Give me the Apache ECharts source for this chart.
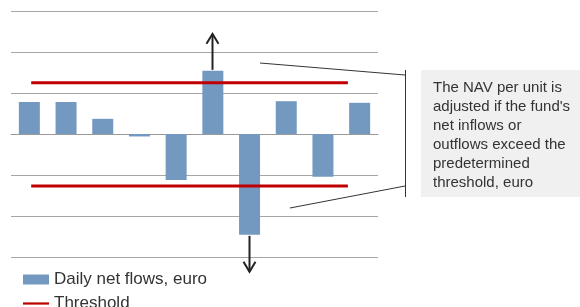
<!DOCTYPE html>
<html>
<head>
<meta charset="utf-8">
<script src="https://cdn.jsdelivr.net/npm/echarts@6/dist/echarts.min.js"></script>
<style>
  html, body { margin: 0; padding: 0; background: #fff; }
  #chart { width: 580px; height: 307px; }
</style>
</head>
<body>
<div id="chart"></div>
<script>
// one bar per day
var days = ['1', '2', '3', '4', '5', '6', '7', '8', '9', '10']
var netFlows = [0.78, 0.78, 0.37, -0.06, -1.12, 1.54, -2.46, 0.8, -1.04, 0.76]
var upperThreshold = 1.25
var lowerThreshold = -1.27
// where the threshold lines start and stop, in days
var thresholdSpan = [0.55, 9.18]
// bars that get an arrow (index into days), and the direction
var arrowBars = [5, 6]
var arrowDirs = [1, -1]
var noteLines = [
  'The NAV per unit is',
  'adjusted if the fund\'s',
  'net inflows or',
  'outflows exceed the',
  'predetermined',
  'threshold, euro'
]

var chart = echarts.init(document.getElementById('chart'))

var arrowData = arrowBars.map(function (i, k) {
  return [i, netFlows[i], arrowDirs[k]]
})

chart.setOption({
  animation: false,
  textStyle: { fontFamily: 'Liberation Sans, Arial, sans-serif' },
  grid: { left: 11, right: 202, top: 11, bottom: 50 },
  legend: {
    orient: 'vertical',
    left: 23,
    top: 271,
    height: 80,
    padding: 0,
    itemWidth: 26,
    itemHeight: 10,
    itemGap: 7,
    textStyle: { fontSize: 17, color: '#333' },
    data: [
      { name: 'Daily net flows, euro', icon: 'rect' },
      { name: 'Threshold', icon: 'path://M0,0 H28 V2.4 H0 Z', itemStyle: { color: '#c00000' } }
    ]
  },
  xAxis: [
    {
      type: 'category',
      data: days,
      axisLabel: { show: false },
      axisLine: { lineStyle: { color: '#999', width: 1 } },
      axisTick: { length: 4, lineStyle: { color: '#999' } }
    },
    {
      type: 'value',
      min: 0,
      max: 10,
      show: false
    }
  ],
  yAxis: {
    type: 'value',
    min: -3,
    max: 3,
    interval: 1,
    axisLabel: { show: false },
    axisLine: { show: false },
    axisTick: { show: false },
    splitLine: { lineStyle: { color: '#a6a6a6', width: 1 } }
  },
  series: [
    {
      name: 'Daily net flows, euro',
      type: 'bar',
      data: netFlows,
      barWidth: 21,
      itemStyle: { color: '#7399c0' }
    },
    {
      name: 'Threshold',
      type: 'line',
      xAxisIndex: 1,
      symbol: 'none',
      symbolKeepAspect: true,
      color: '#c00000',
      lineStyle: { color: '#c00000', width: 3 },
      data: [[thresholdSpan[0], upperThreshold], [thresholdSpan[1], upperThreshold]]
    },
    {
      name: 'Threshold',
      type: 'line',
      xAxisIndex: 1,
      symbol: 'none',
      symbolKeepAspect: true,
      color: '#c00000',
      lineStyle: { color: '#c00000', width: 3 },
      data: [[thresholdSpan[0], lowerThreshold], [thresholdSpan[1], lowerThreshold]]
    },
    {
      type: 'custom',
      silent: true,
      data: arrowData,
      renderItem: function (params, api) {
        var p = api.coord([api.value(0), api.value(1)])
        var dir = api.value(2)
        var x = Math.round(p[0]) - 0.5
        var y0 = p[1] - dir * 1
        var y1 = p[1] - dir * 37
        var st = { stroke: '#222', lineWidth: 2, fill: null }
        return {
          type: 'group',
          children: [
            { type: 'line', shape: { x1: x, y1: y0, x2: x, y2: y1 }, style: st },
            { type: 'polyline', shape: { points: [[x - 6, y1 + dir * 10], [x, y1], [x + 6, y1 + dir * 10]] }, style: st }
          ]
        }
      }
    }
  ],
  graphic: [
    // leader lines and bracket
    { type: 'line', shape: { x1: 260, y1: 63, x2: 405, y2: 75 }, style: { stroke: '#333', lineWidth: 1 } },
    { type: 'line', shape: { x1: 290, y1: 208, x2: 405, y2: 186 }, style: { stroke: '#333', lineWidth: 1 } },
    { type: 'line', shape: { x1: 405.5, y1: 70, x2: 405.5, y2: 197 }, style: { stroke: '#333', lineWidth: 1 } },
    { type: 'rect', shape: { x: 421, y: 70, width: 159, height: 127 }, style: { fill: '#f0f0f0' } },
    {
      type: 'text',
      left: 433,
      top: 78,
      style: {
        text: noteLines.join('\n'),
        fontSize: 15,
        lineHeight: 19,
        fill: '#333',
        fontFamily: 'Liberation Sans, Arial, sans-serif'
      }
    }
  ]
})
</script>
</body>
</html>
